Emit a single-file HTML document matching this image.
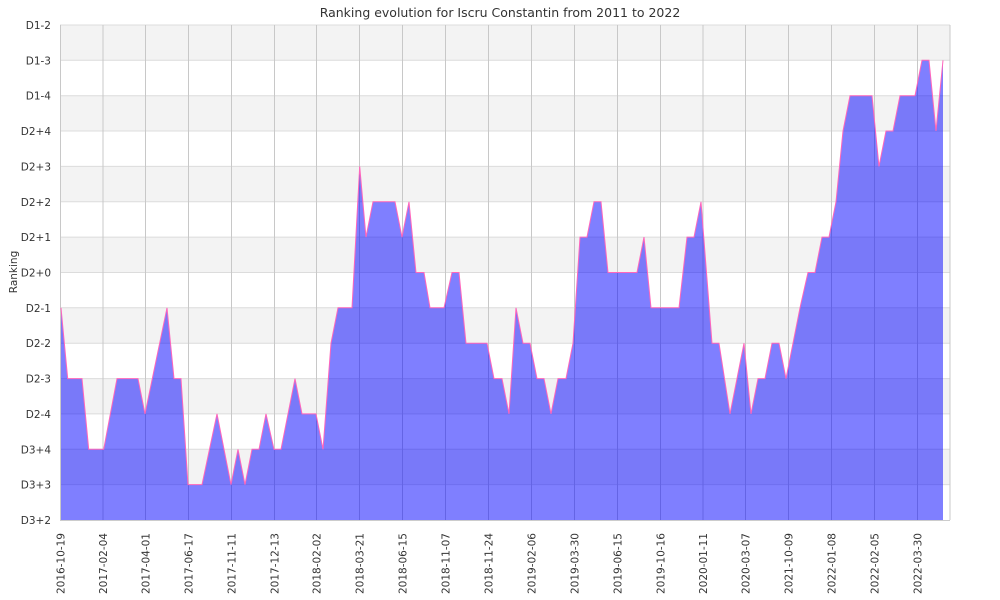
<!DOCTYPE html>
<html><head><meta charset="utf-8"><style>
html,body{margin:0;padding:0;background:#fff;}
svg{display:block;font-family:"DejaVu Sans","Liberation Sans",sans-serif;}
</style></head><body>
<svg width="1000" height="600" viewBox="0 0 1000 600" xmlns="http://www.w3.org/2000/svg">
<rect width="1000" height="600" fill="#fff"/>
<text x="500" y="17" text-anchor="middle" font-size="12.5" fill="#333">Ranking evolution for Iscru Constantin from 2011 to 2022</text>
<g fill="#f3f3f3">
<rect x="60" y="25" width="890" height="35.4"/>
<rect x="60" y="95.7" width="890" height="35.4"/>
<rect x="60" y="166.4" width="890" height="35.4"/>
<rect x="60" y="237.1" width="890" height="35.4"/>
<rect x="60" y="307.8" width="890" height="35.4"/>
<rect x="60" y="378.6" width="890" height="35.4"/>
<rect x="60" y="449.3" width="890" height="35.4"/>
</g>
<g stroke="#dcdcdc" stroke-width="1">
<line x1="60" x2="950" y1="25" y2="25"/><line x1="60" x2="950" y1="60.3" y2="60.3"/><line x1="60" x2="950" y1="95.7" y2="95.7"/><line x1="60" x2="950" y1="131" y2="131"/><line x1="60" x2="950" y1="166.4" y2="166.4"/><line x1="60" x2="950" y1="201.8" y2="201.8"/><line x1="60" x2="950" y1="237.1" y2="237.1"/><line x1="60" x2="950" y1="272.5" y2="272.5"/><line x1="60" x2="950" y1="307.8" y2="307.8"/><line x1="60" x2="950" y1="343.2" y2="343.2"/><line x1="60" x2="950" y1="378.6" y2="378.6"/><line x1="60" x2="950" y1="413.9" y2="413.9"/><line x1="60" x2="950" y1="449.3" y2="449.3"/><line x1="60" x2="950" y1="484.6" y2="484.6"/>
</g>
<g stroke="#c8c8c8" stroke-width="1">
<line x1="103" x2="103" y1="25" y2="520"/><line x1="145.5" x2="145.5" y1="25" y2="520"/><line x1="188.5" x2="188.5" y1="25" y2="520"/><line x1="231.5" x2="231.5" y1="25" y2="520"/><line x1="274.5" x2="274.5" y1="25" y2="520"/><line x1="316.5" x2="316.5" y1="25" y2="520"/><line x1="359.5" x2="359.5" y1="25" y2="520"/><line x1="402.5" x2="402.5" y1="25" y2="520"/><line x1="445.5" x2="445.5" y1="25" y2="520"/><line x1="488.5" x2="488.5" y1="25" y2="520"/><line x1="531.5" x2="531.5" y1="25" y2="520"/><line x1="574.5" x2="574.5" y1="25" y2="520"/><line x1="617.5" x2="617.5" y1="25" y2="520"/><line x1="660.5" x2="660.5" y1="25" y2="520"/><line x1="703" x2="703" y1="25" y2="520"/><line x1="745.5" x2="745.5" y1="25" y2="520"/><line x1="788.5" x2="788.5" y1="25" y2="520"/><line x1="831.5" x2="831.5" y1="25" y2="520"/><line x1="874.5" x2="874.5" y1="25" y2="520"/><line x1="917.5" x2="917.5" y1="25" y2="520"/><line x1="950" x2="950" y1="25" y2="520"/>
</g>
<line x1="60.5" x2="60.5" y1="25" y2="520" stroke="#c8c8c8"/>
<line x1="60" x2="950" y1="520.5" y2="520.5" stroke="#ccc"/>
<polygon fill="rgba(0,0,255,0.5)" stroke="none" points="61,520 61,307.8 67.7,378.6 82,378.6 88.7,449.3 103.7,449.3 117,378.6 138,378.6 145,413.9 167,307.8 174,378.6 181,378.6 188,484.6 202,484.6 217,413.9 231,484.6 238,449.3 245,484.6 252,449.3 259,449.3 266,413.9 274,449.3 281,449.3 295,378.6 302,413.9 316,413.9 323,449.3 331,343.2 338,307.8 352,307.8 359.7,166.4 366,237.1 373,201.8 395,201.8 402,237.1 409,201.8 416,272.5 424,272.5 430,307.8 444,307.8 452,272.5 459,272.5 466,343.2 487,343.2 494,378.6 502,378.6 509,413.9 516,307.8 523,343.2 530,343.2 537,378.6 544,378.6 551,413.9 558,378.6 566,378.6 573,343.2 580,237.1 587,237.1 594,201.8 601,201.8 608,272.5 637,272.5 644,237.1 651,307.8 679,307.8 687,237.1 694,237.1 701,201.8 712,343.2 719,343.2 730,413.9 744,343.2 751,413.9 758,378.6 765,378.6 772,343.2 779,343.2 786,378.6 800,307.8 808,272.5 815,272.5 822,237.1 829,237.1 836,201.8 843,131 850,95.7 872,95.7 879,166.4 886,131 893,131 900,95.7 915,95.7 922,60.3 929,60.3 936,131 943,60.3 943,520"/>
<polyline fill="none" stroke="#ff66bb" stroke-width="1" points="61,307.8 67.7,378.6 82,378.6 88.7,449.3 103.7,449.3 117,378.6 138,378.6 145,413.9 167,307.8 174,378.6 181,378.6 188,484.6 202,484.6 217,413.9 231,484.6 238,449.3 245,484.6 252,449.3 259,449.3 266,413.9 274,449.3 281,449.3 295,378.6 302,413.9 316,413.9 323,449.3 331,343.2 338,307.8 352,307.8 359.7,166.4 366,237.1 373,201.8 395,201.8 402,237.1 409,201.8 416,272.5 424,272.5 430,307.8 444,307.8 452,272.5 459,272.5 466,343.2 487,343.2 494,378.6 502,378.6 509,413.9 516,307.8 523,343.2 530,343.2 537,378.6 544,378.6 551,413.9 558,378.6 566,378.6 573,343.2 580,237.1 587,237.1 594,201.8 601,201.8 608,272.5 637,272.5 644,237.1 651,307.8 679,307.8 687,237.1 694,237.1 701,201.8 712,343.2 719,343.2 730,413.9 744,343.2 751,413.9 758,378.6 765,378.6 772,343.2 779,343.2 786,378.6 800,307.8 808,272.5 815,272.5 822,237.1 829,237.1 836,201.8 843,131 850,95.7 872,95.7 879,166.4 886,131 893,131 900,95.7 915,95.7 922,60.3 929,60.3 936,131 943,60.3"/>
<g font-size="10.5" fill="#333" text-anchor="end">
<text x="51" y="29">D1-2</text><text x="51" y="64.3">D1-3</text><text x="51" y="99.7">D1-4</text><text x="51" y="135">D2+4</text><text x="51" y="170.4">D2+3</text><text x="51" y="205.8">D2+2</text><text x="51" y="241.1">D2+1</text><text x="51" y="276.5">D2+0</text><text x="51" y="311.8">D2-1</text><text x="51" y="347.2">D2-2</text><text x="51" y="382.6">D2-3</text><text x="51" y="417.9">D2-4</text><text x="51" y="453.3">D3+4</text><text x="51" y="488.6">D3+3</text><text x="51" y="524">D3+2</text>
</g>
<text transform="translate(17,272) rotate(-90)" font-size="10.5" fill="#333" text-anchor="middle">Ranking</text>
<g font-size="10.5" fill="#333" text-anchor="end">
<text transform="translate(64.5,533) rotate(-90)">2016-10-19</text>
<text transform="translate(107,533) rotate(-90)">2017-02-04</text>
<text transform="translate(149.5,533) rotate(-90)">2017-04-01</text>
<text transform="translate(192.5,533) rotate(-90)">2017-06-17</text>
<text transform="translate(235.5,533) rotate(-90)">2017-11-11</text>
<text transform="translate(278.5,533) rotate(-90)">2017-12-13</text>
<text transform="translate(320.5,533) rotate(-90)">2018-02-02</text>
<text transform="translate(363.5,533) rotate(-90)">2018-03-21</text>
<text transform="translate(406.5,533) rotate(-90)">2018-06-15</text>
<text transform="translate(449.5,533) rotate(-90)">2018-11-07</text>
<text transform="translate(492.5,533) rotate(-90)">2018-11-24</text>
<text transform="translate(535.5,533) rotate(-90)">2019-02-06</text>
<text transform="translate(578.5,533) rotate(-90)">2019-03-30</text>
<text transform="translate(621.5,533) rotate(-90)">2019-06-15</text>
<text transform="translate(664.5,533) rotate(-90)">2019-10-16</text>
<text transform="translate(707,533) rotate(-90)">2020-01-11</text>
<text transform="translate(749.5,533) rotate(-90)">2020-03-07</text>
<text transform="translate(792.5,533) rotate(-90)">2021-10-09</text>
<text transform="translate(835.5,533) rotate(-90)">2022-01-08</text>
<text transform="translate(878.5,533) rotate(-90)">2022-02-05</text>
<text transform="translate(921.5,533) rotate(-90)">2022-03-30</text>
</g>
</svg>
</body></html>
